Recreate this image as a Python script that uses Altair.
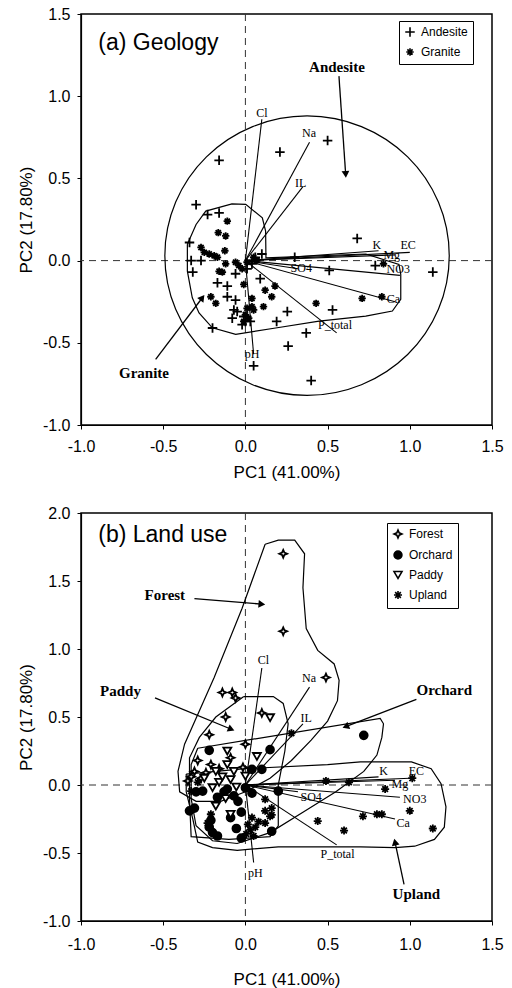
import math
import altair as alt
import pandas as pd

# ---------------- data: panel (a) Geology ----------------
AND_X = [-0.16, 0.21, 0.50, -0.30, -0.23, -0.16, -0.34, -0.33, -0.32, -0.27, -0.17, -0.11, -0.06,
         -0.11, -0.06, -0.07, -0.08, -0.20, 0.01, -0.02, 0.09, 0.10, 0.19, 0.255, 0.37, 0.26, 0.40,
         0.05, 0.30, 0.51, 0.53, 0.68, 0.79, 1.14, 0.06, 0.04, -0.01, 0.00, 0.03, -0.05]
AND_Y = [0.61, 0.66, 0.73, 0.34, 0.28, 0.29, 0.11, 0.00, -0.07, 0.00, -0.135, -0.155, -0.08,
         -0.22, -0.24, -0.30, -0.35, -0.41, -0.05, -0.39, -0.11, 0.04, -0.37, -0.31, -0.44, -0.52, -0.73,
         -0.64, 0.02, -0.06, -0.30, 0.135, -0.03, -0.07, 0.02, -0.02, -0.34, -0.37, -0.37, -0.31]
GRA_X = [-0.11, -0.165, -0.125, -0.27, -0.25, -0.22, -0.19, -0.17, -0.12, -0.06, -0.04, -0.02,
         -0.16, -0.14, -0.01, 0.04, -0.21, -0.18, 0.01, 0.00, 0.02, 0.05, -0.01, 0.84, 0.71, 0.83,
         0.43, 0.18, 0.12, 0.16, 0.01, 0.11, 0.04, 0.05, 0.07, -0.12]
GRA_Y = [0.24, 0.17, 0.06, 0.08, 0.05, 0.04, 0.03, 0.02, -0.02, -0.01, -0.03, -0.05,
         -0.065, -0.07, -0.145, -0.23, -0.22, -0.26, -0.29, -0.33, -0.35, -0.30, -0.37, -0.02, -0.23, -0.22,
         -0.26, -0.155, -0.18, -0.22, -0.01, -0.28, -0.28, 0.02, 0.00, 0.15]

# Andesite enclosure (read as a near-circle), Granite hull outline
CIRC_X = [1.24, 1.174, 0.987, 0.706, 0.375, 0.044, -0.237, -0.424, -0.49, -0.424, -0.237, 0.044,
          0.375, 0.706, 0.987, 1.174]
CIRC_Y = [0.03, 0.356, 0.631, 0.815, 0.88, 0.815, 0.631, 0.356, 0.03, -0.296, -0.571, -0.755,
          -0.82, -0.755, -0.571, -0.296]
GHULL_X = [-0.353, -0.30, -0.241, -0.082, 0.002, 0.103, 0.123, 0.125, 0.732, 0.934, 0.945, 0.945, 0.894, 0.732,
           0.448, 0.184, -0.059, -0.201, -0.282, -0.323, -0.353]
GHULL_Y = [0.100, 0.22, 0.301, 0.345, 0.342, 0.260, 0.179, 0.017, 0.040, -0.023, -0.084, -0.236, -0.307, -0.338,
           -0.368, -0.410, -0.449, -0.409, -0.318, -0.226, -0.064]

# ---------------- data: panel (b) Land use ----------------
FOR_X = [0.23, 0.23, 0.49, -0.14, -0.08, -0.06, -0.12, 0.10, -0.22, 0.00, -0.29, -0.015, -0.31, -0.21,
         -0.09, -0.35, -0.27, -0.16, -0.24, -0.33]
FOR_Y = [1.70, 1.13, 0.79, 0.68, 0.68, 0.64, 0.50, 0.53, 0.37, 0.30, 0.18, 0.13, 0.10, 0.15,
         0.20, 0.03, 0.05, 0.12, 0.09, 0.06]
ORC_X = [0.72, -0.22, 0.04, 0.15, 0.10, -0.34, -0.31, -0.22, -0.17, -0.21, -0.09, -0.055, -0.025, 0.16,
         -0.17, -0.045, -0.11, -0.26, 0.04, 0.20, -0.025, -0.13, -0.07, -0.20, 0.00, -0.30]
ORC_Y = [0.365, 0.255, 0.115, 0.26, 0.115, -0.19, -0.17, -0.31, -0.375, -0.26, -0.24, -0.32, -0.20, -0.34,
         -0.09, -0.12, -0.03, -0.045, -0.06, -0.045, -0.39, -0.05, -0.08, -0.35, -0.02, -0.05]
PAD_X = [0.15, -0.11, 0.07, -0.18, -0.11, -0.09, -0.25, -0.16, -0.18, -0.055, 0.00, -0.09, -0.14, -0.20,
         -0.07, -0.12]
PAD_Y = [0.495, 0.25, 0.21, 0.10, 0.15, 0.04, 0.05, 0.02, -0.155, -0.015, 0.065, -0.215, 0.06, -0.02,
         0.10, -0.10]
UPL_X = [0.28, 0.49, 0.63, 0.85, 1.015, 0.44, 0.60, 0.715, 0.80, 0.83, 1.00, 1.14, 0.12, 0.16, 0.04,
         0.015, 0.06, 0.005, 0.05, 0.12, 0.16, -0.21, -0.23, 0.12, -0.29, -0.33, 0.15, 0.08, 0.03]
UPL_Y = [0.38, 0.03, 0.02, -0.03, 0.05, -0.265, -0.335, -0.23, -0.215, -0.215, -0.19, -0.32, -0.19, -0.22,
         -0.24, -0.29, -0.31, -0.36, -0.375, -0.28, -0.17, -0.215, -0.28, -0.105, 0.02, -0.045, -0.23,
         -0.27, -0.33]

FHULL_X = [0.12, 0.20, 0.30, 0.36, 0.35, 0.37, 0.44, 0.54, 0.57, 0.56, 0.50, 0.40, 0.28, 0.15, 0.00,
           -0.15, -0.30, -0.40, -0.41, -0.37, -0.19, -0.02]
FHULL_Y = [1.77, 1.80, 1.80, 1.70, 1.45, 1.15, 0.99, 0.89, 0.77, 0.62, 0.47, 0.33, 0.18, 0.05, -0.05,
           -0.12, -0.12, -0.05, 0.10, 0.30, 0.79, 1.30]
PHULL_X = [-0.01, 0.17, 0.23, 0.26, 0.24, 0.20, 0.20, 0.15, -0.10, -0.33, -0.34, -0.34, -0.28, -0.18]
PHULL_Y = [0.65, 0.65, 0.60, 0.45, 0.25, 0.00, -0.30, -0.38, -0.40, -0.38, -0.10, 0.20, 0.35, 0.50]
OHULL_X = [-0.29, 0.82, 0.84, 0.83, 0.80, 0.72, 0.55, 0.35, 0.15, -0.05, -0.20, -0.30, -0.33, -0.33]
OHULL_Y = [0.27, 0.49, 0.45, 0.35, 0.22, 0.10, -0.05, -0.20, -0.35, -0.43, -0.41, -0.30, -0.10, 0.15]
UHULL_X = [-0.36, 0.00, 0.50, 0.70, 1.01, 1.13, 1.19, 1.22, 1.21, 1.15, 1.03, 0.91, 0.70, 0.50, 0.20,
           -0.05, -0.20, -0.29, -0.32, -0.36]
UHULL_Y = [0.08, 0.12, 0.15, 0.17, 0.17, 0.12, 0.01, -0.16, -0.31, -0.40, -0.45, -0.46, -0.455, -0.455,
           -0.455, -0.48, -0.46, -0.42, -0.25, -0.05]

# ---------------- loadings ----------------
VARS = ["Cl", "Na", "IL", "K", "EC", "Mg", "NO3", "Ca", "SO4", "P_total", "pH"]
LOAD_X = [0.10, 0.39, 0.35, 0.81, 1.00, 0.91, 0.94, 0.91, 0.32, 0.555, 0.05]
LOAD_Y = [0.86, 0.72, 0.45, 0.06, 0.05, 0.035, -0.09, -0.25, -0.05, -0.44, -0.57]
# label positions as read in each panel
LAB_A_X = [0.10, 0.387, 0.336, 0.80, 0.99, 0.89, 0.93, 0.90, 0.34, 0.545, 0.04]
LAB_A_Y = [0.90, 0.776, 0.473, 0.095, 0.095, 0.035, -0.05, -0.234, -0.046, -0.39, -0.57]
LAB_B_X = [0.11, 0.387, 0.37, 0.84, 1.04, 0.94, 1.03, 0.96, 0.40, 0.56, 0.06]
LAB_B_Y = [0.92, 0.79, 0.49, 0.10, 0.10, 0.01, -0.10, -0.28, -0.09, -0.505, -0.65]

# annotations: label, label x/y, arrow start x/y, arrow end x/y
ANN_A = ["Andesite", "Granite"]
ANN_A_LX = [0.557, -0.617]
ANN_A_LY = [1.177, -0.682]
ANN_A_X0 = [0.569, -0.546]
ANN_A_Y0 = [1.122, -0.601]
ANN_A_X1 = [0.61, -0.262]
ANN_A_Y1 = [0.524, -0.226]

ANN_B = ["Forest", "Paddy", "Orchard", "Upland"]
ANN_B_LX = [-0.49, -0.76, 1.21, 1.04]
ANN_B_LY = [1.40, 0.69, 0.70, -0.80]
ANN_B_X0 = [-0.31, -0.55, 1.04, 0.965]
ANN_B_Y0 = [1.37, 0.64, 0.63, -0.73]
ANN_B_X1 = [0.10, -0.086, 0.61, 0.91]
ANN_B_Y1 = [1.33, 0.41, 0.43, -0.42]

TICKS = [-1.0, -0.5, 0.0, 0.5, 1.0, 1.5, 2.0]

# ---------------- styling ----------------
W = 411
H_A = 411
H_B = 408
SANS = "Liberation Sans"
SERIF = "Liberation Serif"

PLUS = "M-1,0H1M0,-1V1"
STAR = "M-1,0H1M0,-1V1M-0.7,-0.7L0.7,0.7M-0.7,0.7L0.7,-0.7"
DIAM = "M0,-1L0.3,-0.3L1,0L0.3,0.3L0,1L-0.3,0.3L-1,0L-0.3,-0.3Z"

LABEL_EXPR = "(datum.value < 0 ? '-' : '') + format(abs(datum.value), '.1f')"


def xy_df(xs, ys, **extra):
    d = pd.DataFrame({"x": xs, "y": ys})
    for k, v in extra.items():
        d[k] = v
    d["i"] = range(len(d))
    return d


def closed(xs, ys):
    return xy_df(list(xs) + [xs[0]], list(ys) + [ys[0]])


def panel(ydom, height, points, shape_dom, shape_rng, fill_rng, size_rng, hulls, smooth_hulls,
          labx, laby, ann, title_txt, title_y, legend_x, legend_y, yticks, x_lab_pad, x_title_pad):
    xs = alt.Scale(domain=[-1.0, 1.5], nice=False, zero=False)
    ys = alt.Scale(domain=ydom, nice=False, zero=False)
    xax = alt.Axis(values=TICKS[:6], labelExpr=LABEL_EXPR, title="PC1 (41.00%)", labelFlush=False,
                   labelPadding=x_lab_pad, titlePadding=x_title_pad)
    yax = alt.Axis(values=yticks, labelExpr=LABEL_EXPR, title="PC2 (17.80%)", labelFlush=False,
                   labelPadding=7, titlePadding=7)
    X = lambda f="x": alt.X(f, type="quantitative", scale=xs, axis=xax)
    Y = lambda f="y": alt.Y(f, type="quantitative", scale=ys, axis=yax)

    zero = pd.DataFrame({"v": [0.0]})
    vline = alt.Chart(zero).mark_rule(color="#333", strokeDash=[7, 5], strokeWidth=1).encode(
        x=alt.X("v:Q", scale=xs, axis=xax))
    hline = alt.Chart(zero).mark_rule(color="#333", strokeDash=[7, 5], strokeWidth=1).encode(
        y=alt.Y("v:Q", scale=ys, axis=yax))

    layers = [vline, hline]
    for h in hulls:
        layers.append(alt.Chart(h).mark_line(color="black", strokeWidth=1.2).encode(
            x=X(), y=Y(), order="i:Q"))
    for h in smooth_hulls:
        layers.append(alt.Chart(h).mark_line(color="black", strokeWidth=1.2,
                                             interpolate="cardinal-closed").encode(
            x=X(), y=Y(), order="i:Q"))

    load = pd.DataFrame({"var": VARS, "x": LOAD_X, "y": LOAD_Y, "lx": labx, "ly": laby,
                         "x0": 0.0, "y0": 0.0})
    layers.append(alt.Chart(load).mark_rule(color="black", strokeWidth=1.1).encode(
        x=X("x0"), y=Y("y0"), x2="x", y2="y"))

    layers.append(alt.Chart(points).mark_point(stroke="black", strokeWidth=1.8, opacity=1).encode(
        x=X(), y=Y(),
        shape=alt.Shape("grp:N", scale=alt.Scale(domain=shape_dom, range=shape_rng),
                        legend=alt.Legend(title=None, orient="none", legendX=legend_x, legendY=legend_y,
                                          strokeColor="black", fillColor="white", padding=5,
                                          labelFont=SANS, labelFontSize=12, labelColor="black",
                                          symbolStrokeColor="black", symbolStrokeWidth=1.6,
                                          rowPadding=5, labelOffset=5)),
        fill=alt.Fill("grp:N", scale=alt.Scale(domain=shape_dom, range=fill_rng)),
        size=alt.Size("grp:N", scale=alt.Scale(domain=shape_dom, range=size_rng)),
    ))

    layers.append(alt.Chart(load).mark_text(font=SERIF, fontSize=12, color="black").encode(
        x=X("lx"), y=Y("ly"), text="var:N"))

    # annotations with arrows
    sx = W / 2.5
    sy = height / (ydom[1] - ydom[0])
    names, lx, ly, x0, y0, x1, y1 = ann
    ad = pd.DataFrame({"name": names, "lx": lx, "ly": ly, "x0": x0, "y0": y0, "x1": x1, "y1": y1})
    ad["ang"] = [math.degrees(math.atan2((b - a) * sx, (c - d) * sy)) for a, b, c, d in zip(x0, x1, y0, y1)]
    ad["ang"] = [(180 - a) % 360 for a in ad["ang"]]
    layers.append(alt.Chart(ad).mark_rule(color="black", strokeWidth=1.3).encode(
        x=X("x0"), y=Y("y0"), x2="x1", y2="y1"))
    layers.append(alt.Chart(ad).mark_point(shape="triangle-up", filled=True, color="black", size=60,
                                           opacity=1).encode(
        x=X("x1"), y=Y("y1"), angle=alt.Angle("ang:Q", scale=None)))
    layers.append(alt.Chart(ad).mark_text(font=SERIF, fontSize=15, fontWeight="bold",
                                          color="black").encode(
        x=X("lx"), y=Y("ly"), text="name:N"))

    tdf = pd.DataFrame({"t": [title_txt], "x": [-0.895], "y": [title_y]})
    layers.append(alt.Chart(tdf).mark_text(font=SANS, fontSize=23, align="left", color="black").encode(
        x=X(), y=Y(), text="t:N"))

    return alt.layer(*layers).properties(width=W, height=height)


pa = pd.concat([xy_df(AND_X, AND_Y, grp="Andesite"), xy_df(GRA_X, GRA_Y, grp="Granite")])
chart_a = panel(
    [-1.0, 1.5], H_A, pa, ["Andesite", "Granite"], [PLUS, STAR], ["white", "white"], [90, 55],
    [closed(GHULL_X, GHULL_Y)], [xy_df(CIRC_X, CIRC_Y)], LAB_A_X, LAB_A_Y,
    (ANN_A, ANN_A_LX, ANN_A_LY, ANN_A_X0, ANN_A_Y0, ANN_A_X1, ANN_A_Y1),
    "(a) Geology", 1.325, 318, 7, TICKS[:6], 9, 10)

pb = pd.concat([xy_df(FOR_X, FOR_Y, grp="Forest"), xy_df(ORC_X, ORC_Y, grp="Orchard"),
                xy_df(PAD_X, PAD_Y, grp="Paddy"), xy_df(UPL_X, UPL_Y, grp="Upland")])
chart_b = panel(
    [-1.0, 2.0], H_B, pb, ["Forest", "Orchard", "Paddy", "Upland"],
    [DIAM, "circle", "triangle-down", STAR], ["white", "black", "white", "white"], [60, 65, 50, 55],
    [closed(FHULL_X, FHULL_Y), closed(PHULL_X, PHULL_Y), closed(OHULL_X, OHULL_Y),
     closed(UHULL_X, UHULL_Y)], [], LAB_B_X, LAB_B_Y,
    (ANN_B, ANN_B_LX, ANN_B_LY, ANN_B_X0, ANN_B_Y0, ANN_B_X1, ANN_B_Y1),
    "(b) Land use", 1.84, 306, 10, TICKS, 11, 19)

chart = alt.vconcat(chart_a, chart_b, spacing=23).resolve_scale(
    shape="independent", fill="independent", size="independent", x="independent", y="independent"
).resolve_legend(shape="independent", fill="independent", size="independent").properties(
    padding={"left": 16, "top": 5, "right": 5, "bottom": 5}, background="white"
).configure_view(stroke="black", strokeWidth=1.5).configure_axis(
    grid=False, domainColor="black", domainWidth=1.2, tickColor="black", tickSize=4,
    labelFont=SANS, labelFontSize=16, labelColor="black",
    titleFont=SANS, titleFontSize=17, titleFontWeight="normal", titleColor="black"
)

chart.save("out.html", embed_options={"renderer": "svg", "actions": False})
